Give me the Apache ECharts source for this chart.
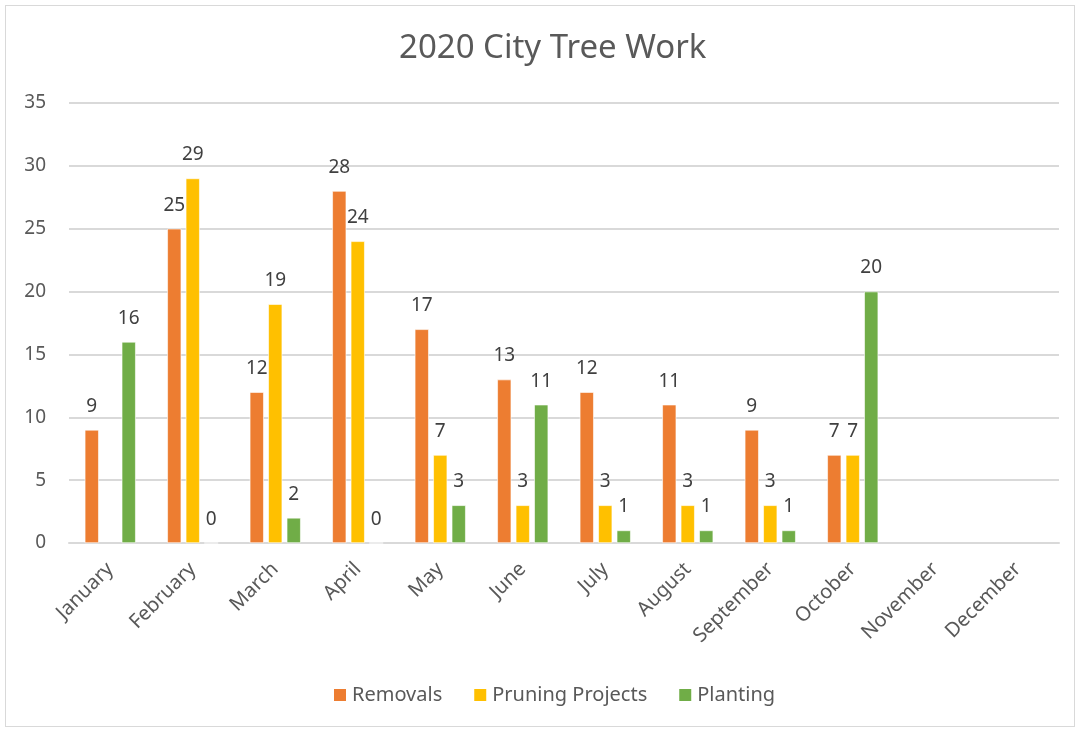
<!DOCTYPE html>
<html>
<head>
<meta charset="utf-8">
<script src="https://cdn.jsdelivr.net/npm/echarts@6/dist/echarts.min.js"></script>
<style>
html,body{margin:0;padding:0;background:#fff;}
#frame{position:absolute;left:5px;top:5px;width:1068px;height:720px;border:1px solid #d9d9d9;}
#chart{position:absolute;left:0;top:0;width:1081px;height:732px;}
</style>
</head>
<body>
<div id="frame"></div>
<div id="chart"></div>
<script>
const titleText = '2020 City Tree Work';
const categories = ['January','February','March','April','May','June','July','August','September','October','November','December'];
const removals = [9, 25, 12, 28, 17, 13, 12, 11, 9, 7, null, null];
const pruning = [null, 29, 19, 24, 7, 3, 3, 3, 3, 7, null, null];
const planting = [16, 0, 2, 0, 3, 11, 1, 1, 1, 20, null, null];
const yTicks = {min: 0, max: 35, interval: 5};

const font = 'Noto Sans, Open Sans, sans-serif';
const chart = echarts.init(document.getElementById('chart'), null, {renderer: 'canvas'});
function mkSeries(name, data, color) {
  return {
    name: name, type: 'bar', data: data, barWidth: 14, barGap: '32%',
    itemStyle: {color: color, borderColor: '#ffffff', borderWidth: 0.6},
    label: {show: true, position: 'top', distance: 14, color: '#404040', fontSize: 19, fontFamily: font},
    emphasis: {disabled: true}
  };
}
chart.setOption({
  animation: false,
  title: {text: titleText, left: 394, top: 27, textStyle: {fontFamily: font, fontSize: 33, fontWeight: 'normal', color: '#595959'}},
  legend: {
    bottom: 22, left: 327, itemWidth: 14, itemHeight: 14, itemGap: 30,
    icon: 'rect',
    textStyle: {fontFamily: font, fontSize: 20, color: '#595959', padding: [0,0,0,0]},
    data: ['Removals','Pruning Projects','Planting']
  },
  grid: {left: 69, right: 22, top: 103, bottom: 189, containLabel: false, outerBoundsMode: 'none'},
  xAxis: {
    type: 'category', data: categories,
    axisLine: {lineStyle: {color: '#d9d9d9', width: 2}},
    axisTick: {show: false},
    axisLabel: {rotate: 45, margin: 23, fontFamily: font, fontSize: 20, color: '#595959', interval: 0}
  },
  yAxis: {
    type: 'value', min: yTicks.min, max: yTicks.max, interval: yTicks.interval,
    axisLine: {show: false}, axisTick: {show: false},
    splitLine: {lineStyle: {color: '#d9d9d9', width: 2}},
    axisLabel: {margin: 23, fontFamily: font, fontSize: 19, color: '#595959'}
  },
  series: [
    mkSeries('Removals', removals, '#ed7d31'),
    mkSeries('Pruning Projects', pruning, '#ffc000'),
    mkSeries('Planting', planting, '#70ad47')
  ]
});
</script>
</body>
</html>
